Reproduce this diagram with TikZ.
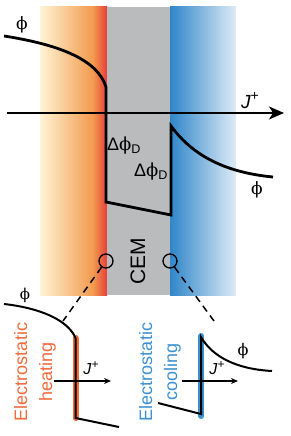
\documentclass[tikz,border=0pt]{standalone}
\usepackage{fontspec}
\setmainfont{Liberation Sans}
\newfontfamily\phifont{DejaVu Serif}
\usetikzlibrary{arrows.meta}

\newcommand{\phiGlyph}{{\phifont ϕ}}
\newcommand{\fluxLabel}[1]{\textit{J}\raisebox{0.42em}{\fontsize{#1}{#1}\selectfont +}}

\begin{document}
\begin{tikzpicture}[x=1pt,y=-1pt]
    \def\bandTop{7}
    \def\bandBottom{295}
    \definecolor{creamColour}{HTML}{FFF4D4}
    \definecolor{orangeColour}{HTML}{F39A4E}
    \definecolor{redColour}{HTML}{E63E3A}
    \definecolor{cemColour}{HTML}{BABBBD}
    \definecolor{blueColour}{HTML}{2F86C9}
    \definecolor{paleBlueColour}{HTML}{DEEBF7}
    \definecolor{heatColour}{HTML}{F06A3C}
    \definecolor{coolColour}{HTML}{3B90D0}

    \useasboundingbox (0,0) rectangle (291,436);

    % Draw bands
    \shade[left color=creamColour, right color=orangeColour] (40,\bandTop) rectangle (93,\bandBottom);
    \shade[left color=orangeColour, right color=redColour] (93,\bandTop) rectangle (107,\bandBottom);
    \fill[cemColour] (107,\bandTop) rectangle (170,\bandBottom);
    \shade[left color=blueColour, right color=paleBlueColour] (170,\bandTop) rectangle (236,\bandBottom);

    % Draw axis
    \draw[line width=1.5pt,-{Stealth[length=15pt,width=13pt,inset=4pt]}] (7,113) -- (284,113);
    \node[font=\fontsize{19}{19}\selectfont] (jMain) at (250,101) {\fluxLabel{14}};

    % Potential across the membrane
    \draw[line width=2.8pt] (4,36) .. controls (55,44) and (97,58) .. (106,87) -- (106,202)
        -- (171,215) -- (171,126) .. controls (190,152) and (220,172) .. (273,177);
    \node[font=\fontsize{17}{17}\selectfont] (phiLeft) at (22,25) {\phiGlyph};
    \node[font=\fontsize{17}{17}\selectfont] (phiRight) at (257,190) {\phiGlyph};
    \node[font=\fontsize{18}{18}\selectfont] (dropLeft) at (124,146) {Δ\phiGlyph\textsubscript{D}};
    \node[font=\fontsize{18}{18}\selectfont] (dropRight) at (151,172) {Δ\phiGlyph\textsubscript{D}};
    \node[rotate=90, font=\fontsize{21}{21}\selectfont] (cem) at (138,261) {CEM};

    % Zoom rings and dashed leaders
    \node[circle, draw, minimum size=14pt, inner sep=0pt, line width=1.3pt] (heatRing) at (106,261) {};
    \node[circle, draw, minimum size=14pt, inner sep=0pt, line width=1.3pt] (coolRing) at (170,261) {};
    \coordinate (heatEnd) at (63,321);
    \coordinate (coolEnd) at (214,321);
    \draw[line width=1.5pt, dash pattern=on 7pt off 5pt] (heatRing) -- (heatEnd);
    \draw[line width=1.5pt, dash pattern=on 7pt off 5pt] (coolRing) -- (coolEnd);

    % Electrostatic heating inset
    \draw[line width=6pt, line cap=round, heatColour] (75.5,338) -- (75.5,418);
    \draw[line width=2pt] (4,304) .. controls (40,308) and (68,320) .. (75.5,338) -- (75.5,418) -- (119,427);
    \coordinate (heatTail) at (54,381);
    \coordinate (heatHead) at (111,381);
    \draw[line width=1.1pt, -{Stealth[length=7pt,width=6pt]}] (heatTail) -- (heatHead);
    \node[font=\fontsize{16}{16}\selectfont] (jHeat) at (91,368) {\fluxLabel{12}};
    \node[font=\fontsize{15}{15}\selectfont] (phiHeat) at (25,295) {\phiGlyph};
    \node[rotate=90, align=center, text=heatColour, font=\fontsize{18}{25}\selectfont] (heatLabel) at (35,372) {Electrostatic\\heating};

    % Electrostatic cooling inset
    \draw[line width=6pt, line cap=round, coolColour] (201,336) -- (201,416);
    \draw[line width=2pt] (158,403) -- (201,414) -- (201,337) .. controls (212,356) and (235,369) .. (272,371);
    \coordinate (coolTail) at (182,381);
    \coordinate (coolHead) at (238,381);
    \draw[line width=1.1pt, -{Stealth[length=7pt,width=6pt]}] (coolTail) -- (coolHead);
    \node[font=\fontsize{16}{16}\selectfont] (jCool) at (217,368) {\fluxLabel{12}};
    \node[font=\fontsize{16}{16}\selectfont] (phiCool) at (243,351) {\phiGlyph};
    \node[rotate=90, align=center, text=coolColour, font=\fontsize{18}{25}\selectfont] (coolLabel) at (160,372) {Electrostatic\\cooling};

\end{tikzpicture}
\end{document}
